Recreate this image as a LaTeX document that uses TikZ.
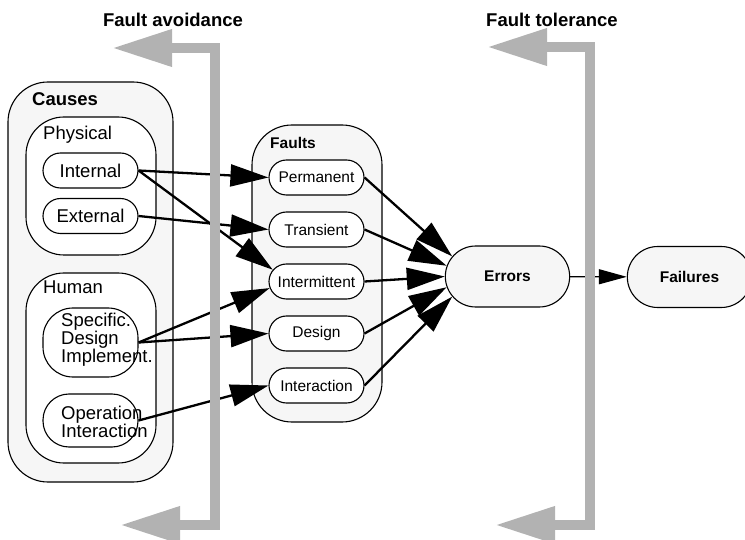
\documentclass[tikz,border=0pt]{standalone}
\usepackage{fontspec}
\setmainfont{Liberation Sans}
\usepackage{tikz}
\usetikzlibrary{arrows.meta}
\usetikzlibrary{positioning}
\usetikzlibrary{shapes.misc}
\definecolor{boxfill}{gray}{0.965}
\definecolor{barcol}{gray}{0.7}
\newcommand\bigtext{\fontsize{18.5}{18}\selectfont}
\newcommand\smalltext{\fontsize{15.5}{17}\selectfont}
\newcommand\leafwidth{95pt}
\newcommand\leafheight{35pt}
\tikzset{
    flow/.style = {-{Triangle[length=38pt,width=22pt]}, line width=2.3pt},
    thinflow/.style = {-{Triangle[length=28pt,width=15pt]}, line width=1.3pt},
    barline/.style = {{Triangle[length=60pt,width=35pt]}-{Triangle[length=60pt,width=35pt]}, draw=barcol, line width=10pt, line join=miter},
}
\tikzset{
    groupbox/.style={draw, line width=1.1pt, fill=boxfill, rounded corners=40pt, inner sep=0pt},
    subgroup/.style={groupbox, fill=white, rounded corners=38pt},
    heading/.style={anchor=base west, inner sep=0pt, font=\bigtext},
    cause/.style={draw, line width=1.1pt, fill=white, rounded rectangle, minimum width=\leafwidth, minimum height=\leafheight, inner sep=0pt, font=\bigtext},
    tallcause/.style={draw, line width=1.1pt, fill=white, rounded corners=#1, minimum width=\leafwidth, inner sep=0pt},
    leaftext/.style={anchor=west, align=left, inner sep=0pt, font=\bigtext},
    fault/.style={cause, font=\smalltext, node distance=52pt, on grid},
    outcome/.style={draw, line width=1.1pt, fill=boxfill, rounded rectangle, minimum width=131pt, minimum height=61pt, font=\smalltext\bfseries}
}
\begin{document}
\begin{tikzpicture}[x=1pt,y=-1pt]
\useasboundingbox (0,0) rectangle (745,540);
% causes
\node(causes)[groupbox, minimum width=165pt, minimum height=400pt] at (90.5,282) {};
\node(causeslbl)[heading, font=\bigtext\bfseries] at (32,106) {Causes};
\node(phys)[subgroup, minimum width=130pt, minimum height=138pt] at (91,186) {};
\node(physlbl)[heading] at (43,140) {Physical};
\node(int)[cause] at (90.5,170.5) {Internal};
\node(ext)[cause] at (90.5,216) {External};
\node(hum)[subgroup, minimum width=130pt, minimum height=190pt] at (91,368) {};
\node(humlbl)[heading] at (43,294) {Human};
\node(spec)[tallcause=30pt, minimum height=69pt] at (90.5,342.5) {};
\node(spectxt)[leaftext] at (61,340) {Specific.\\Design\\Implement.};
\node(oper)[tallcause=26pt, minimum height=53pt] at (90.5,420.5) {};
\node(opertxt)[leaftext] at (61,422) {Operation\\Interaction};
% faults
\node(faults)[groupbox, minimum width=130pt, minimum height=297pt] at (317,273.5) {};
\node(faultslbl)[heading, font=\smalltext\bfseries] at (270,149) {Faults};
\node(perm)[fault] at (316.5,177.5) {Permanent};
\node(trans)[fault, below of=perm] {Transient};
\node(intm)[fault, below of=trans] {Intermittent};
\node(des)[fault, below of=intm] {Design};
\node(inter)[fault, below of=des] {Interaction};
% errors and failures
\node(err)[outcome] at (507.5,276.5) {Errors};
\node(fail)[outcome] at (689.5,277) {Failures};
\node(avoid)[heading, anchor=base, font=\bigtext\bfseries] at (173,27) {Fault avoidance};
\node(toler)[heading, anchor=base, font=\bigtext\bfseries] at (552,27) {Fault tolerance};
\draw[flow] (int.east) -- (perm.west);
\draw[flow] (int.east) -- (intm.165);
\draw[flow] (ext.east) -- (trans.west);
\draw[flow] (spec.east) -- (intm.188);
\draw[flow] (spec.east) -- (des.west);
\draw[flow] (oper.east) -- (inter.west);
\foreach \f/\a in {perm/160, trans/170, intm/180, des/190, inter/200}
    \draw[flow] (\f.east) -- (err.\a);
\draw[thinflow] (err) -- (fail);
% gray brackets
\coordinate (avtop) at (112,48);
\coordinate (avbot) at (120,525);
\draw[barline] (avtop) -- (215,48) -- (215,525) -- (avbot);
\coordinate (totop) at (487,47);
\coordinate (tobot) at (495,525);
\draw[barline] (totop) -- (590,47) -- (590,525) -- (tobot);
\end{tikzpicture}
\end{document}
